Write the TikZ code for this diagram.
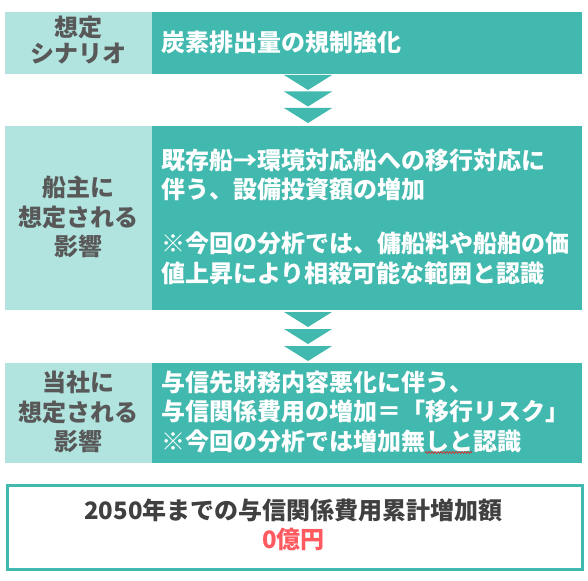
\documentclass[tikz,border=0pt]{standalone}
\usepackage{fontspec}
\setmainfont{Noto Sans CJK JP}
\usetikzlibrary{decorations.pathmorphing}
\definecolor{tealdark}{HTML}{42B9AE}
\definecolor{teallight}{HTML}{B1E4DF}
\definecolor{labelgray}{HTML}{585858}
\definecolor{textdark}{HTML}{404040}
\definecolor{redtext}{HTML}{FF5A5F}
\definecolor{squiggle}{HTML}{E02020}
\tikzset{
  lbox/.style={fill=teallight, draw=none, inner sep=0pt, anchor=north west},
  rbox/.style={fill=tealdark, draw=none, inner sep=0pt, anchor=north west},
  lbl/.style={inner sep=0pt, anchor=base, text=labelgray, font=\fontsize{24pt}{29pt}\selectfont\bfseries},
  wtxt/.style={inner sep=0pt, anchor=base west, text=white, font=\fontsize{24pt}{29pt}\selectfont\bfseries},
  btxt/.style={inner sep=0pt, anchor=base, font=\fontsize{24pt}{29pt}\selectfont\bfseries},
  chev/.style={fill=tealdark},
}
\begin{document}
\begin{tikzpicture}[x=1pt,y=-1pt]
\useasboundingbox (0,0) rectangle (588,580);
% row 1
\node[lbox, minimum width=147pt, minimum height=62pt] (h1) at (5,12) {};
\node[rbox, minimum width=430pt, minimum height=62pt] (b1) at (152,12) {};
\node[lbl] (h1a) at (78.5,36.5) {想定};
\node[lbl] (h1b) at (78.5,63) {シナリオ};
\node[wtxt] (b1a) at (161,52) {炭素排出量の規制強化};
% arrows 1
\fill[chev] (284,75) -- (332,75) -- (308,90) -- cycle;
\fill[chev] (284,91.5) -- (332,91.5) -- (308,106.5) -- cycle;
\fill[chev] (284,108) -- (332,108) -- (308,123) -- cycle;
% row 2
\node[lbox, minimum width=147pt, minimum height=184pt] (h2) at (5,126) {};
\node[rbox, minimum width=430pt, minimum height=184pt] (b2) at (152,126) {};
\node[lbl] (h2a) at (78.5,196) {船主に};
\node[lbl] (h2b) at (78.5,226) {想定される};
\node[lbl] (h2c) at (78.5,255) {影響};
\node[wtxt] (b2a) at (161,169) {既存船→環境対応船への移行対応に};
\node[wtxt] (b2b) at (161,198) {伴う、設備投資額の増加};
\node[wtxt] (b2c) at (161,252) {※今回の分析では、傭船料や船舶の価};
\node[wtxt] (b2d) at (161,282) {値上昇により相殺可能な範囲と認識};
% arrows 2
\fill[chev] (284,312) -- (332,312) -- (308,327) -- cycle;
\fill[chev] (284,329) -- (332,329) -- (308,344) -- cycle;
\fill[chev] (284,346) -- (332,346) -- (308,361) -- cycle;
% row 3
\node[lbox, minimum width=147pt, minimum height=100pt] (h3) at (5,363) {};
\node[rbox, minimum width=430pt, minimum height=100pt] (b3) at (152,363) {};
\node[lbl] (h3a) at (78.5,391) {当社に};
\node[lbl] (h3b) at (78.5,421) {想定される};
\node[lbl] (h3c) at (78.5,450) {影響};
\node[wtxt] (b3a) at (161,391) {与信先財務内容悪化に伴う、};
\node[wtxt] (b3b) at (161,420) {与信関係費用の増加＝「移行リスク」};
\node[wtxt] (b3c) at (161,450) {※今回の分析では増加無しと認識};
\draw[squiggle, line width=0.6pt, decorate, decoration={snake, amplitude=1pt, segment length=3pt}] (425,452.5) -- (472,452.5);
% result box
\node[draw=tealdark, line width=3pt, fill=white, inner sep=0pt, minimum width=575pt, minimum height=84pt, anchor=north west] (res) at (5.5,483.5) {};
\node[btxt, text=textdark] (resa) at (293.5,519) {2050年までの与信関係費用累計増加額};
\node[btxt, text=redtext] (resb) at (293.5,548) {0億円};
\end{tikzpicture}
\end{document}
